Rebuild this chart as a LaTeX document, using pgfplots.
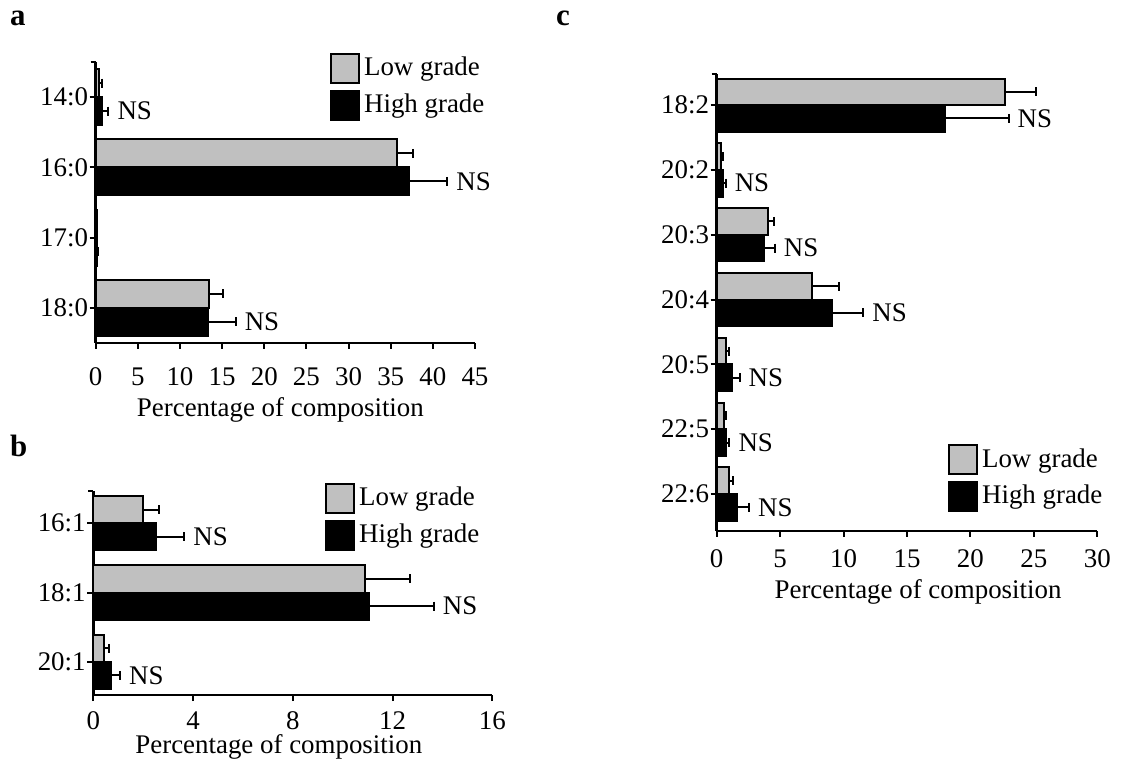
\documentclass[border=0pt]{standalone}
\usepackage{fontspec}
\setmainfont{Liberation Serif}
\usepackage{pgfplots}
\pgfplotsset{compat=1.18}
\definecolor{lowgray}{RGB}{192,192,192}
\pgfplotsset{
  panel/.style={
    xbar, scale only axis, anchor=south west, clip=false,
    axis x line*=bottom, axis y line*=left,
    axis line style={-, line width=2.5bp, black},
    tick align=outside,
    major tick length=6bp,
    every tick/.style={black, line width=2bp},
    extra tick style={major tick length=5bp},
    xmin=0,
    /pgf/number format/assume math mode=true,
    yticklabel style={inner sep=1.5bp},
    xlabel={Percentage of composition},
    xlabel style={inner sep=0pt, anchor=base},
    legend cell align=left,
    legend style={draw=none, fill=none, inner sep=0pt, row sep=6bp,
      nodes={inner sep=4bp}},
    legend image code/.code={\draw[#1,line width=1.8bp] (0bp,-14.5bp) rectangle (28bp,14.5bp);},
    error bars/x dir=plus, error bars/x explicit,
    error bars/error mark=|,
    error bars/error bar style={line width=2bp, black},
    error bars/error mark options={line width=2bp, black, mark size=4.5bp},
  },
  lowbar/.style={fill=lowgray, draw=black, line width=2bp},
  highbar/.style={fill=black, draw=black, line width=2bp},
}
\begin{document}
\fontsize{27}{31}\selectfont
\begin{tikzpicture}[x=1bp,y=1bp,font=\fontsize{27}{31}\selectfont]
\path[use as bounding box] (0bp,0bp) rectangle (1121bp,761bp);
\node[anchor=base west, inner sep=0pt, font=\fontsize{31}{35}\selectfont\bfseries] at (10bp,735bp) {a};
\node[anchor=base west, inner sep=0pt, font=\fontsize{31}{35}\selectfont\bfseries] at (10bp,304bp) {b};
\node[anchor=base west, inner sep=0pt, font=\fontsize{31}{35}\selectfont\bfseries] at (556bp,735bp) {c};

% ---------- panel a ----------
\begin{axis}[panel, at={(95.7bp,418bp)}, width=379.3bp, height=281bp,
  xmax=45, xtick={0,5,...,45},
  xticklabel style={anchor=base, yshift=-37bp},
  xlabel style={at={(axis description cs:0.487,-0.263)}},
  ymin=-0.5, ymax=3.5,
  ytick={0,1,2,3}, yticklabels={18:0,17:0,16:0,14:0},
  extra y ticks={3.5}, extra y tick labels={},
  bar width=0.4,
  legend style={at={(0.618,1.032)}, anchor=north west}]
\addplot[lowbar, bar shift=0.2] coordinates {
  (0.4,3) +- (0.3,0)
  (35.8,2) +- (1.8,0)
  (0.15,1) +- (0.05,0)
  (13.5,0) +- (1.6,0)};
\addplot[highbar, bar shift=-0.2] coordinates {
  (0.8,3) +- (0.7,0)
  (37.2,2) +- (4.5,0)
  (0.2,1) +- (0.05,0)
  (13.35,0) +- (3.25,0)};
\legend{Low grade, High grade}
\node[anchor=west] at (axis cs:1.5,2.8) {NS};
\node[anchor=west] at (axis cs:41.7,1.8) {NS};
\node[anchor=west] at (axis cs:16.6,-0.2) {NS};
\end{axis}

% ---------- panel b ----------
\begin{axis}[panel, at={(93.3bp,66bp)}, width=399bp, height=204.3bp,
  xmax=16, xtick={0,4,...,16},
  xticklabel style={anchor=base, yshift=-28.5bp},
  xlabel style={at={(axis description cs:0.465,-0.288)}},
  ymin=-0.48, ymax=2.47,
  ytick={0,1,2}, yticklabels={20:1,18:1,16:1},
  extra y ticks={2.47}, extra y tick labels={},
  bar width=0.39,
  legend style={at={(0.581,1.038)}, anchor=north west}]
\addplot[lowbar, bar shift=0.195] coordinates {
  (2.0,2) +- (0.65,0)
  (10.9,1) +- (1.8,0)
  (0.44,0) +- (0.18,0)};
\addplot[highbar, bar shift=-0.195] coordinates {
  (2.5,2) +- (1.15,0)
  (11.05,1) +- (2.6,0)
  (0.7,0) +- (0.37,0)};
\legend{Low grade, High grade}
\node[anchor=west] at (axis cs:3.65,1.805) {NS};
\node[anchor=west] at (axis cs:13.65,0.805) {NS};
\node[anchor=west] at (axis cs:1.07,-0.195) {NS};
\end{axis}

% ---------- panel c ----------
\begin{axis}[panel, at={(716.7bp,230bp)}, width=380.6bp, height=457bp,
  xmax=30, xtick={0,5,...,30},
  xticklabel style={anchor=base, yshift=-31bp},
  xlabel style={at={(axis description cs:0.529,-0.147)}},
  ymin=-0.57, ymax=6.48,
  ytick={0,...,6}, yticklabels={22:6,22:5,20:5,20:4,20:3,20:2,18:2},
  extra y ticks={6.48}, extra y tick labels={},
  bar width=0.41,
  legend style={at={(0.608,0.19)}, anchor=north west}]
\addplot[lowbar, bar shift=0.205] coordinates {
  (22.7,6) +- (2.5,0)
  (0.3,5) +- (0.2,0)
  (4.07,4) +- (0.45,0)
  (7.5,3) +- (2.1,0)
  (0.7,2) +- (0.3,0)
  (0.58,1) +- (0.15,0)
  (1.0,0) +- (0.26,0)};
\addplot[highbar, bar shift=-0.205] coordinates {
  (18.0,6) +- (5.0,0)
  (0.5,5) +- (0.2,0)
  (3.7,4) +- (0.87,0)
  (9.1,3) +- (2.45,0)
  (1.2,2) +- (0.6,0)
  (0.76,1) +- (0.24,0)
  (1.58,0) +- (0.97,0)};
\legend{Low grade, High grade}
\node[anchor=west] at (axis cs:23.0,5.795) {NS};
\node[anchor=west] at (axis cs:0.7,4.795) {NS};
\node[anchor=west] at (axis cs:4.57,3.795) {NS};
\node[anchor=west] at (axis cs:11.55,2.795) {NS};
\node[anchor=west] at (axis cs:1.8,1.795) {NS};
\node[anchor=west] at (axis cs:1.0,0.795) {NS};
\node[anchor=west] at (axis cs:2.55,-0.205) {NS};
\end{axis}
\end{tikzpicture}
\end{document}
